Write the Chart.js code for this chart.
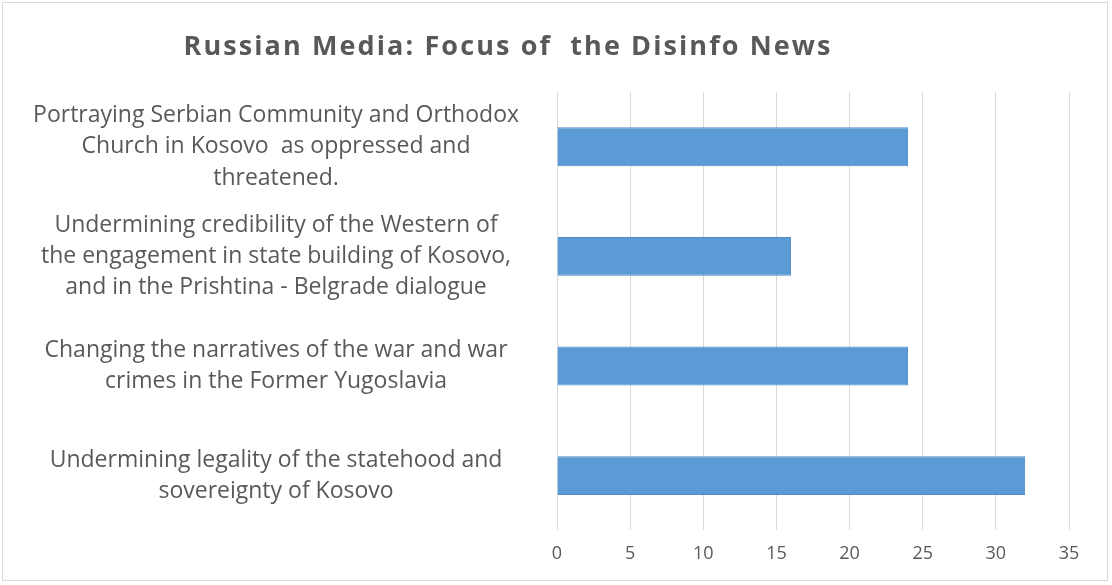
<!DOCTYPE html>
<html>
<head>
<meta charset="utf-8">
<title>Russian Media: Focus of the Disinfo News</title>
<script src="https://cdn.jsdelivr.net/npm/chart.js@4/dist/chart.umd.min.js"></script>
<style>
    html, body { margin: 0; padding: 0; background: #ffffff; }
    #wrap {
        position: absolute;
        left: 2px; top: 2px;
        width: 1106px; height: 579px;
        border: 1px solid #d9d9d9;
        box-sizing: border-box;
    }
    #chartTitle {
        position: absolute;
        left: 0; top: 27px;
        width: 1016px;
        text-align: center;
        font-family: "Open Sans", sans-serif;
        font-weight: 700;
        font-size: 27px;
        letter-spacing: 2.1px;
        line-height: 36px;
        color: #595959;
        white-space: pre;
    }
    canvas { display: block; }
</style>
</head>
<body>
<div id="wrap"><canvas id="barChart" width="1104" height="577"></canvas></div>
<div id="chartTitle">Russian Media: Focus of  the Disinfo News</div>
<script>
// Categories, top to bottom
const categories = [
    ["Portraying Serbian Community and Orthodox", "Church in Kosovo  as oppressed and", "threatened."],
    ["Undermining credibility of the Western of", "the engagement in state building of Kosovo,", "and in the Prishtina - Belgrade dialogue"],
    ["Changing the narratives of the war and war", "crimes in the Former Yugoslavia"],
    ["Undermining legality of the statehood and", "sovereignty of Kosovo"]
];
const counts = [24, 16, 24, 32];
const axisMax = 35;
const axisStep = 5;

const textColor = "#595959";
const gridColor = "#d9d9d9";
const barColor = "#5b9bd5";

document.addEventListener("DOMContentLoaded", () => {
    const ctx = document.getElementById("barChart").getContext("2d");

    new Chart(ctx, {
        type: "bar",
        data: {
            labels: categories,
            datasets: [{
                label: "Disinfo news",
                data: counts,
                backgroundColor: barColor,
                borderColor: "#4f8cc6",
                borderWidth: 1,
                barPercentage: 0.48,
                categoryPercentage: 0.74
            }]
        },
        options: {
            indexAxis: "y",
            responsive: false,
            animation: false,
            layout: { padding: { left: 14, right: 38, top: 89, bottom: 2 } },
            plugins: {
                legend: { display: false },
                tooltip: { enabled: false },
                title: { display: false }
            },
            scales: {
                x: {
                    min: 0,
                    max: axisMax,
                    ticks: {
                        stepSize: axisStep,
                        color: textColor,
                        font: { family: "'Open Sans', sans-serif", size: 18 },
                        padding: 13
                    },
                    grid: { color: gridColor, drawTicks: false },
                    border: { display: false }
                },
                y: {
                    // fixed label column; labels sit inside category bands
                    afterFit: (axis) => {
                        axis.width = 540;
                        axis.paddingTop = 0;
                        axis.paddingBottom = 0;
                    },
                    ticks: {
                        color: textColor,
                        crossAlign: "center",
                        font: { family: "'Open Sans', sans-serif", size: 23, lineHeight: 1.36 },
                        padding: 30
                    },
                    grid: { display: false },
                    border: { display: false }
                }
            }
        }
    });
});
</script>
</body>
</html>
